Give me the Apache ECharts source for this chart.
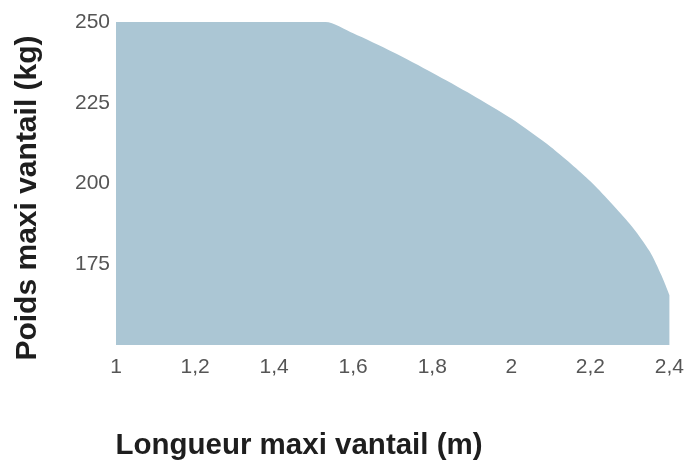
<!DOCTYPE html>
<html>
<head>
<meta charset="utf-8">
<script src="https://cdn.jsdelivr.net/npm/echarts@6/dist/echarts.min.js"></script>
<style>
    html, body { margin: 0; padding: 0; background: #fff; }
    #chart { width: 687px; height: 462px; }
</style>
</head>
<body>
<div id="chart"></div>
<script>
// longueur du vantail (m) et poids maxi correspondant (kg)
var longueurs = [1, 1.53, 1.6, 1.7, 1.8, 1.9, 2.0, 2.1, 2.2, 2.3, 2.35, 2.38, 2.4];
var poids = [250, 250, 246.5, 240.7, 234.3, 227.5, 220.1, 211.3, 200.7, 187.5, 179, 171.5, 165.5];
var yTicks = [175, 200, 225, 250];

var chart = echarts.init(document.getElementById('chart'));

var points = [];
for (var i = 0; i < longueurs.length; i++) {
    points.push([longueurs[i], poids[i]]);
}

var option = {
    animation: false,
    grid: { left: 116, right: 14, top: 22, bottom: 117 },
    xAxis: {
        type: 'value',
        min: 1,
        max: 2.4,
        interval: 0.2,
        axisLine: { show: false },
        axisTick: { show: false },
        splitLine: { show: false },
        axisLabel: {
            margin: 12,
            fontFamily: 'Liberation Sans',
            fontSize: 21,
            color: '#555',
            formatter: function (v) {
                return String(+v.toFixed(1)).replace('.', ',');
            }
        }
    },
    yAxis: {
        type: 'value',
        min: 150,
        max: 250,
        interval: 25,
        axisLine: { show: false },
        axisTick: { show: false },
        splitLine: { show: false },
        axisLabel: {
            margin: 6,
            fontFamily: 'Liberation Sans',
            fontSize: 21,
            color: '#555',
            formatter: function (v) {
                return yTicks.indexOf(v) > -1 ? String(v) : '';
            }
        }
    },
    graphic: [{
        type: 'text',
        x: 28,
        y: 198,
        rotation: Math.PI / 2,
        style: {
            text: 'Poids maxi vantail (kg)',
            fontFamily: 'Liberation Sans',
            fontWeight: 'bold',
            fontSize: 30,
            fill: '#1e1e1e',
            textAlign: 'center',
            textVerticalAlign: 'middle'
        }
    }, {
        type: 'text',
        x: 299,
        y: 446,
        style: {
            text: 'Longueur maxi vantail (m)',
            fontFamily: 'Liberation Sans',
            fontWeight: 'bold',
            fontSize: 29.5,
            fill: '#1e1e1e',
            textAlign: 'center',
            textVerticalAlign: 'middle'
        }
    }],
    series: [{
        type: 'line',
        data: points,
        smooth: 0.25,
        symbol: 'none',
        lineStyle: { width: 0 },
        areaStyle: { color: '#abc6d4', opacity: 1, origin: 'start' }
    }]
};
chart.setOption(option);
</script>
</body>
</html>
